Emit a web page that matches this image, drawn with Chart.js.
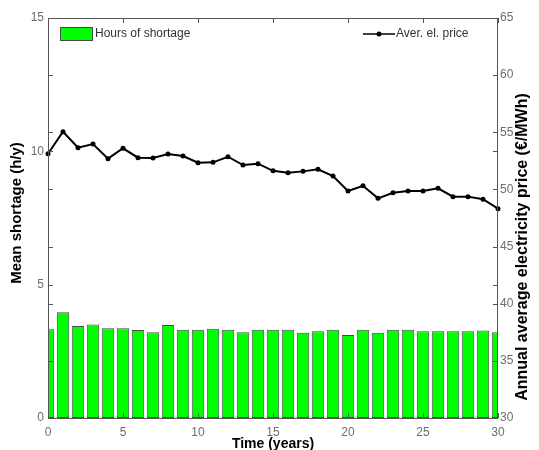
<!DOCTYPE html>
<html>
<head>
<meta charset="utf-8">
<script src="https://cdn.jsdelivr.net/npm/chart.js@4"></script>
<style>
  html, body { margin: 0; padding: 0; background: #fff; }
  #wrap { width: 539px; height: 450px; }
</style>
</head>
<body>
<div id="wrap"><canvas id="chart" width="539" height="450"></canvas></div>
<script>
Chart.defaults.font.family = 'Liberation Sans, Arial, sans-serif'
Chart.defaults.font.size = 12
Chart.defaults.color = '#6e6e6e'

const years = [0, 1, 2, 3, 4, 5, 6, 7, 8, 9, 10, 11, 12, 13, 14, 15, 16, 17, 18, 19, 20, 21, 22, 23, 24, 25, 26, 27, 28, 29, 30]
const shortageHours = [3.33, 3.97, 3.45, 3.51, 3.37, 3.37, 3.30, 3.22, 3.49, 3.31, 3.31, 3.35, 3.31, 3.22, 3.31, 3.31,
  3.31, 3.20, 3.25, 3.31, 3.11, 3.31, 3.20, 3.31, 3.31, 3.25, 3.25, 3.25, 3.25, 3.28, 3.22]
const elPrice = [53.12, 55.05, 53.65, 53.97, 52.69, 53.60, 52.78, 52.75, 53.10, 52.92, 52.34, 52.37, 52.86, 52.13, 52.25, 51.63,
  51.46, 51.58, 51.76, 51.17, 49.86, 50.32, 49.22, 49.71, 49.86, 49.86, 50.10, 49.37, 49.37, 49.14, 48.32]

const xTicks = [0, 5, 10, 15, 20, 25, 30]
const leftTicks = [0, 5, 10, 15]
const rightTicks = [30, 35, 40, 45, 50, 55, 60, 65]

const legendLabels = ['Hours of shortage', 'Aver. el. price']
const titles = {
  x: 'Time (years)',
  y: 'Mean shortage (h/y)',
  y2: 'Annual average electricity price (€/MWh)'
}

// frame, inward tick marks on all four sides, axis titles and the in-plot legend
const framePlugin = {
  id: 'frame',
  afterDatasetsDraw(chart) {
    const { ctx, chartArea: a, scales } = chart
    const tl = 5
    ctx.save()
    ctx.strokeStyle = '#555555'
    ctx.lineWidth = 1
    ctx.strokeRect(a.left + 0.5, a.top + 0.5, a.right - a.left - 1, a.bottom - a.top)

    ctx.beginPath()
    xTicks.forEach(v => {
      const px = Math.round(scales.x.getPixelForValue(v)) + 0.5
      ctx.moveTo(px, a.bottom); ctx.lineTo(px, a.bottom - tl)
      ctx.moveTo(px, a.top); ctx.lineTo(px, a.top + tl)
    })
    leftTicks.forEach(v => {
      const py = Math.round(scales.y.getPixelForValue(v)) + 0.5
      ctx.moveTo(a.left, py); ctx.lineTo(a.left + tl, py)
      ctx.moveTo(a.right, py); ctx.lineTo(a.right - tl, py)
    })
    rightTicks.forEach(v => {
      const py = Math.round(scales.y2.getPixelForValue(v)) + 0.5
      ctx.moveTo(a.left, py); ctx.lineTo(a.left + tl, py)
      ctx.moveTo(a.right, py); ctx.lineTo(a.right - tl, py)
    })
    ctx.stroke()

    // axis titles
    ctx.fillStyle = '#000000'
    ctx.textAlign = 'center'
    ctx.textBaseline = 'middle'
    ctx.font = 'bold 14px Liberation Sans, Arial, sans-serif'
    ctx.fillText(titles.x, (a.left + a.right) / 2, 444)

    ctx.font = 'bold 15px Liberation Sans, Arial, sans-serif'
    ctx.save()
    ctx.translate(17, 213)
    ctx.rotate(-Math.PI / 2)
    ctx.fillText(titles.y, 0, 0)
    ctx.restore()

    ctx.font = 'bold 16px Liberation Sans, Arial, sans-serif'
    ctx.save()
    ctx.translate(523, 247)
    ctx.rotate(-Math.PI / 2)
    ctx.fillText(titles.y2, 0, 0)
    ctx.restore()

    // legend
    const bars = chart.data.datasets[0]
    const line = chart.data.datasets[1]
    ctx.font = '12px Liberation Sans, Arial, sans-serif'
    ctx.textAlign = 'left'
    ctx.fillStyle = bars.backgroundColor
    ctx.fillRect(60, 27, 32, 13)
    ctx.strokeStyle = bars.borderColor
    ctx.lineWidth = 1
    ctx.strokeRect(60.5, 27.5, 32, 13)
    ctx.fillStyle = '#333333'
    ctx.fillText(legendLabels[0], 95, 34)

    ctx.strokeStyle = line.borderColor
    ctx.lineWidth = 1.5
    ctx.beginPath()
    ctx.moveTo(363, 34); ctx.lineTo(395, 34)
    ctx.stroke()
    ctx.fillStyle = line.pointBackgroundColor
    ctx.beginPath()
    ctx.arc(379, 34, 2.5, 0, Math.PI * 2)
    ctx.fill()
    ctx.fillStyle = '#333333'
    ctx.fillText(legendLabels[1], 396, 34)
    ctx.restore()
  }
}

const config = {
  type: 'bar',
  data: {
    datasets: [{
      type: 'bar',
      label: legendLabels[0],
      data: years.map((x, i) => ({ x, y: shortageHours[i] })),
      backgroundColor: '#00ff00',
      borderColor: '#4a4a4a',
      borderWidth: 1,
      borderSkipped: false,
      barPercentage: 0.83,
      categoryPercentage: 1,
      yAxisID: 'y',
      order: 2
    }, {
      type: 'line',
      label: legendLabels[1],
      data: years.map((x, i) => ({ x, y: elPrice[i] })),
      borderColor: '#000000',
      borderWidth: 2,
      pointRadius: 2.5,
      pointBackgroundColor: '#000000',
      pointBorderWidth: 0,
      tension: 0,
      clip: false,
      yAxisID: 'y2',
      order: 1
    }]
  },
  options: {
    responsive: false,
    animation: false,
    layout: { padding: { top: 18, left: 0, right: 0, bottom: 0 } },
    plugins: {
      legend: { display: false },
      tooltip: { enabled: false }
    },
    scales: {
      x: {
        type: 'linear',
        min: 0,
        max: 30,
        offset: false,
        grid: { display: false, drawTicks: false },
        border: { display: false },
        ticks: { stepSize: 5, padding: 7, maxRotation: 0 },
        afterFit: s => { s.height = 32 }
      },
      y: {
        position: 'left',
        min: 0,
        max: 15,
        grid: { display: false, drawTicks: false },
        border: { display: false },
        ticks: { stepSize: 5, padding: 4 },
        afterFit: s => { s.width = 48 }
      },
      y2: {
        position: 'right',
        min: 30,
        max: 65,
        grid: { display: false, drawTicks: false },
        border: { display: false },
        ticks: { stepSize: 5, padding: 2 },
        afterFit: s => { s.width = 41 }
      }
    }
  },
  plugins: [framePlugin]
}

new Chart(document.getElementById('chart'), config)
</script>
</body>
</html>
